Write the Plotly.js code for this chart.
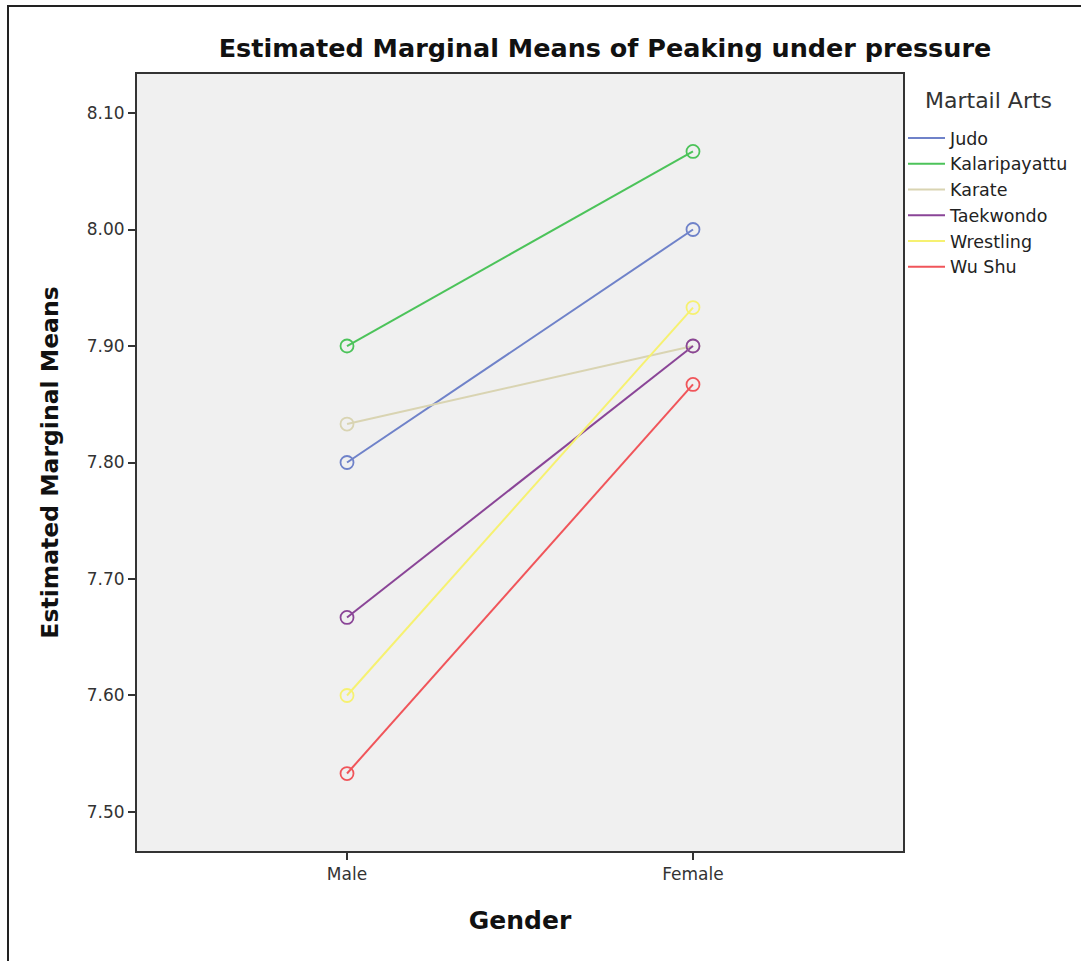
<!DOCTYPE html>
<html>
<head>
<meta charset="utf-8">
<script src="https://cdn.plot.ly/plotly-3.0.1.min.js"></script>
<style>
  html, body { margin: 0; padding: 0; background: #fff; overflow: hidden; }
  #frame { position: absolute; left: 7px; top: 5px; width: 1200px; height: 1100px;
           border-left: 2px solid #222; border-top: 2px solid #222; pointer-events: none; }
  #chart { position: absolute; left: 0; top: 0; width: 1081px; height: 961px; }
</style>
</head>
<body>
<div id="chart"></div>
<div id="frame"></div>
<script>
const genders = ["Male", "Female"];
const arts = ["Judo", "Kalaripayattu", "Karate", "Taekwondo", "Wrestling", "Wu Shu"];
const judo = [7.800, 8.000];
const kalaripayattu = [7.900, 8.067];
const karate = [7.833, 7.900];
const taekwondo = [7.667, 7.900];
const wrestling = [7.600, 7.933];
const wuShu = [7.533, 7.867];
const seriesValues = [judo, kalaripayattu, karate, taekwondo, wrestling, wuShu];
const colors = ["#6f82c9", "#4cc35a", "#d9d4b2", "#8a4597", "#f6f171", "#f0555a"];
const yTicks = [7.5, 7.6, 7.7, 7.8, 7.9, 8.0, 8.1];
const legendTitle = "Martail Arts";

const traces = [];
arts.forEach((name, i) => {
  traces.push({
    x: genders, y: seriesValues[i], name: name, type: "scatter", mode: "lines",
    line: {color: colors[i], width: 2}, showlegend: true, legendrank: i + 1
  });
});
arts.forEach((name, i) => {
  traces.push({
    x: genders, y: seriesValues[i], name: name, type: "scatter", mode: "markers",
    marker: {symbol: "circle-open", size: 13, color: colors[i], line: {color: colors[i], width: 1.8}},
    showlegend: false, hoverinfo: "skip"
  });
});

const layout = {
  width: 1081, height: 961,
  margin: {l: 137, r: 178, t: 74, b: 110, autoexpand: false},
  paper_bgcolor: "rgba(0,0,0,0)",
  plot_bgcolor: "#f0f0f0",
  font: {family: "DejaVu Sans, sans-serif", color: "#222"},
  title: {
    text: "<b>Estimated Marginal Means of Peaking under pressure</b>",
    font: {size: 25.5, color: "#111"},
    x: 0.611, xref: "paper", xanchor: "center",
    y: 1 - 48 / 961, yref: "container", yanchor: "middle"
  },
  xaxis: {
    type: "category", categoryarray: genders, range: [-0.607, 1.607],
    showline: true, mirror: true, linecolor: "#333", linewidth: 2,
    showgrid: false, zeroline: false,
    ticks: "outside", ticklen: 7, tickwidth: 2, tickcolor: "#333",
    tickfont: {size: 17, color: "#333"},
    title: {text: "<b>Gender</b>", font: {size: 25, color: "#111"}, standoff: 28}
  },
  yaxis: {
    range: [7.4665, 8.1335], tickvals: yTicks, tickformat: ".2f",
    showline: true, mirror: true, linecolor: "#333", linewidth: 2,
    showgrid: false, zeroline: false,
    ticks: "outside", ticklen: 7, tickwidth: 2, tickcolor: "#333",
    tickfont: {size: 17, color: "#333"},
    title: {text: "<b>Estimated Marginal Means</b>", font: {size: 23.5, color: "#111"}, standoff: 22}
  },
  legend: {
    x: 1.0, xanchor: "left", y: (851 - 120) / 777, yanchor: "top",
    bgcolor: "rgba(0,0,0,0)", borderwidth: 0,
    font: {size: 17.5, color: "#222"},
    itemwidth: 37, tracegroupgap: 0
  },
  annotations: [{
    text: legendTitle, xref: "paper", yref: "paper",
    x: (988 - 137) / 766, y: (851 - 100) / 777, xanchor: "center", yanchor: "middle",
    showarrow: false, font: {size: 22, color: "#333"}
  }],
  showlegend: true
};

Plotly.newPlot("chart", traces, layout, {displayModeBar: false, staticPlot: true});
</script>
</body>
</html>
